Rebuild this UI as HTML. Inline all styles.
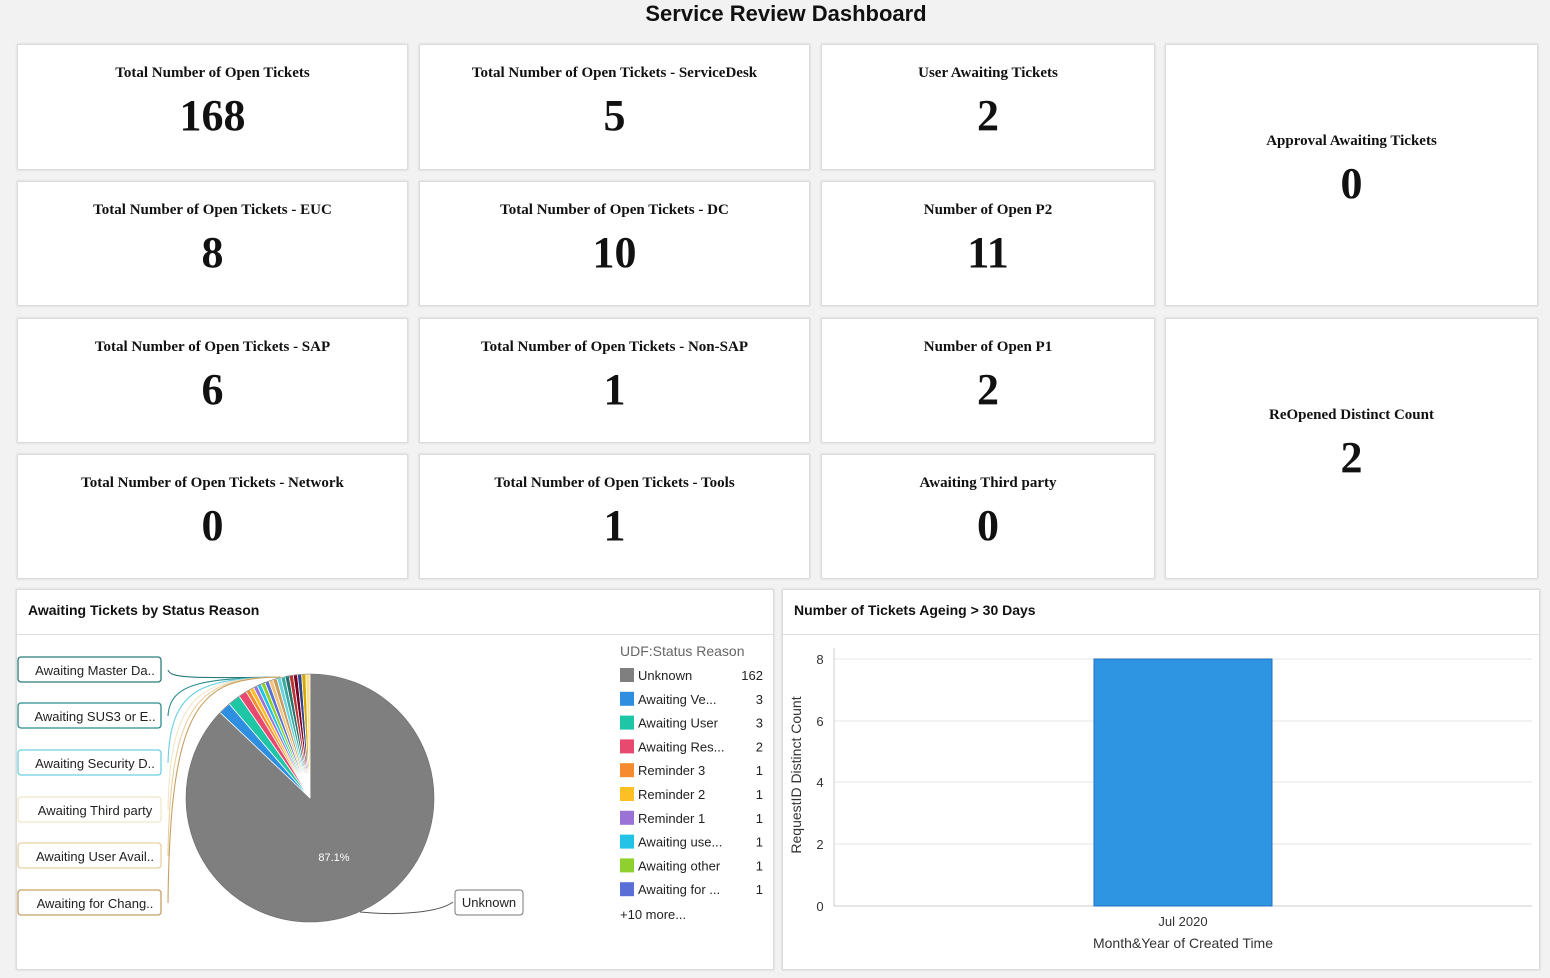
<!DOCTYPE html>
<html><head><meta charset="utf-8"><style>
body{margin:0;width:1550px;height:978px;background:#f2f2f2;font-family:"Liberation Sans",sans-serif;position:relative;overflow:hidden}
.h{position:absolute;top:0;left:0;width:1572px;text-align:center;font-weight:bold;font-size:22px;top:1px;color:#111}
.c{position:absolute;background:#fff;border:1px solid #dcdcdc;box-shadow:0 0 2px #ccc;font-family:"Liberation Serif",serif;text-align:center;color:#111;box-sizing:border-box}
.c .t{position:absolute;left:0;right:0;font-weight:bold;font-size:15px}
.c .n{position:absolute;left:0;right:0;font-weight:bold;font-size:44px}
.p{position:absolute;background:#fff;border:1px solid #dcdcdc;box-shadow:0 0 2px #ccc}
.p .hd{height:44px;border-bottom:1px solid #ddd;font-weight:bold;font-size:14px;line-height:40px;padding-left:11px;color:#111}
svg text{font-family:"Liberation Sans",sans-serif}
</style></head><body>
<div class="h">Service Review Dashboard</div>
<div id="cards"></div>
<div class="p" style="left:16px;top:589px;width:756px;height:379px"><div class="hd">Awaiting Tickets by Status Reason</div></div>
<div class="p" style="left:782px;top:589px;width:756px;height:379px"><div class="hd">Number of Tickets Ageing &gt; 30 Days</div></div>
<svg id="s" width="1550" height="978" style="position:absolute;left:0;top:0">
<g stroke="#e6e6e6" stroke-width="1">
<line x1="834" y1="659" x2="1532" y2="659"/><line x1="834" y1="721" x2="1532" y2="721"/><line x1="834" y1="782" x2="1532" y2="782"/><line x1="834" y1="844" x2="1532" y2="844"/>
</g>
<line x1="834" y1="648" x2="834" y2="906" stroke="#ccc"/>
<line x1="834" y1="906" x2="1532" y2="906" stroke="#ccc"/>
<rect x="1094" y="659" width="178" height="247" fill="#2e95e3" stroke="#2070c0" stroke-width="1"/>
<g font-size="13" fill="#333" text-anchor="middle">
<text x="820" y="664">8</text><text x="820" y="726">6</text><text x="820" y="787">4</text><text x="820" y="849">2</text><text x="820" y="911">0</text>
<text x="1183" y="926">Jul 2020</text>
<text x="1183" y="948" font-size="14">Month&amp;Year of Created Time</text>
<text transform="translate(801,775) rotate(-90)" font-size="14">RequestID Distinct Count</text>
</g>
<g id="pie"></g>
<g id="leg" font-size="13" fill="#222"></g>
</svg>
<script>
var C=[
[17,44,391,126,"Total Number of Open Tickets","168"],[419,44,391,126,"Total Number of Open Tickets - ServiceDesk","5"],[821,44,334,126,"User Awaiting Tickets","2"],[1165,44,373,262,"Approval Awaiting Tickets","0"],
[17,181,391,125,"Total Number of Open Tickets - EUC","8"],[419,181,391,125,"Total Number of Open Tickets - DC","10"],[821,181,334,125,"Number of Open P2","11"],
[17,318,391,125,"Total Number of Open Tickets - SAP","6"],[419,318,391,125,"Total Number of Open Tickets - Non-SAP","1"],[821,318,334,125,"Number of Open P1","2"],[1165,318,373,261,"ReOpened Distinct Count","2"],
[17,454,391,125,"Total Number of Open Tickets - Network","0"],[419,454,391,125,"Total Number of Open Tickets - Tools","1"],[821,454,334,125,"Awaiting Third party","0"]];
var h="";C.forEach(function(c){var ty=c[3]>200?88:20;h+='<div class="c" style="left:'+c[0]+'px;top:'+c[1]+'px;width:'+c[2]+'px;height:'+c[3]+'px"><div class="t" style="top:'+ty+'px">'+c[4]+'</div><div class="n" style="top:'+(ty+25)+'px">'+c[5]+'</div></div>';});
document.getElementById("cards").innerHTML=h;
var cx=310,cy=798,r=124;
var vals=[162,3,3,2,1,1,1,1,1,1,1,1,1,1,1,1,1,1,1,1];
var cols=["#7f7f7f","#2e8fe0","#1fc6a6","#e84a6f","#f58a2e","#fcbf24","#9b72d6","#22c3e6","#8ed12f","#5a6fd6","#f0c27a","#c99a5b","#67d3e0","#3aa9a0","#26706b","#b33","#702","#334488","#d4a800","#ffe08a"];
var a=0,p="";
function pt(t){return [cx+r*Math.sin(t*Math.PI/180),cy-r*Math.cos(t*Math.PI/180)];}
vals.forEach(function(v,i){var b=a+v/186*360;var s=pt(a),e=pt(b);var lg=(b-a)>180?1:0;
p+='<path d="M'+cx+','+cy+'L'+s[0].toFixed(2)+','+s[1].toFixed(2)+'A'+r+','+r+' 0 '+lg+' 1 '+e[0].toFixed(2)+','+e[1].toFixed(2)+'Z" fill="'+cols[i]+'" stroke="#fff" stroke-width="'+(i==0?0:0.8)+'"/>';a=b;});
p+='<circle cx="'+cx+'" cy="'+cy+'" r="'+r+'" fill="none" stroke="#6a6a6a" stroke-width="0.6"/>';
p+='<text x="334" y="861" font-size="11" fill="#fff" text-anchor="middle">87.1%</text>';
var labs=[["Awaiting Master Da..",670,"#2a7c78"],["Awaiting SUS3 or E..",716,"#2a8d8d"],["Awaiting Security D..",763,"#6ad0e0"],["Awaiting Third party",810,"#f2e6c8"],["Awaiting User Avail..",856,"#e8d0a0"],["Awaiting for Chang..",903,"#c8a060"]];
labs.forEach(function(l,i){p+='<rect x="18" y="'+(l[1]-13)+'" width="143" height="25" rx="3" fill="#fff" stroke="'+l[2]+'" stroke-width="1.3"/>';
p+='<text x="95" y="'+(l[1]+5)+'" font-size="13" fill="#222" text-anchor="middle">'+l[0]+'</text>';
var tx=[290,288,286,284,282,280][i];p+='<path d="M168,'+l[1]+' C170,'+(l[1]-(l[1]-680)*0.9)+' 200,678 '+tx+',677" fill="none" stroke="'+l[2]+'" stroke-width="1.1"/>';});
p+='<rect x="455" y="890" width="68" height="25" rx="3" fill="#fff" stroke="#777"/><text x="489" y="907" font-size="13" fill="#222" text-anchor="middle">Unknown</text>';
p+='<path d="M360,912 C400,916 440,912 453,902" fill="none" stroke="#555"/>';
document.getElementById("pie").innerHTML=p;
var L=[["Unknown","162"],["Awaiting Ve...","3"],["Awaiting User","3"],["Awaiting Res...","2"],["Reminder 3","1"],["Reminder 2","1"],["Reminder 1","1"],["Awaiting use...","1"],["Awaiting other","1"],["Awaiting for ...","1"]];
var lc=["#7f7f7f","#2e8fe0","#1fc6a6","#e84a6f","#f58a2e","#fcbf24","#9b72d6","#22c3e6","#8ed12f","#5a6fd6"];
var g='<text x="620" y="656" font-size="14" fill="#666">UDF:Status Reason</text>';
L.forEach(function(l,i){var y=675+i*23.8;g+='<rect x="620" y="'+(y-7)+'" width="14" height="14" fill="'+lc[i]+'"/><text x="638" y="'+(y+5)+'">'+l[0]+'</text><text x="763" y="'+(y+5)+'" text-anchor="end">'+l[1]+'</text>';});
g+='<text x="620" y="919">+10 more...</text>';
document.getElementById("leg").innerHTML=g;
</script>
</body></html>
